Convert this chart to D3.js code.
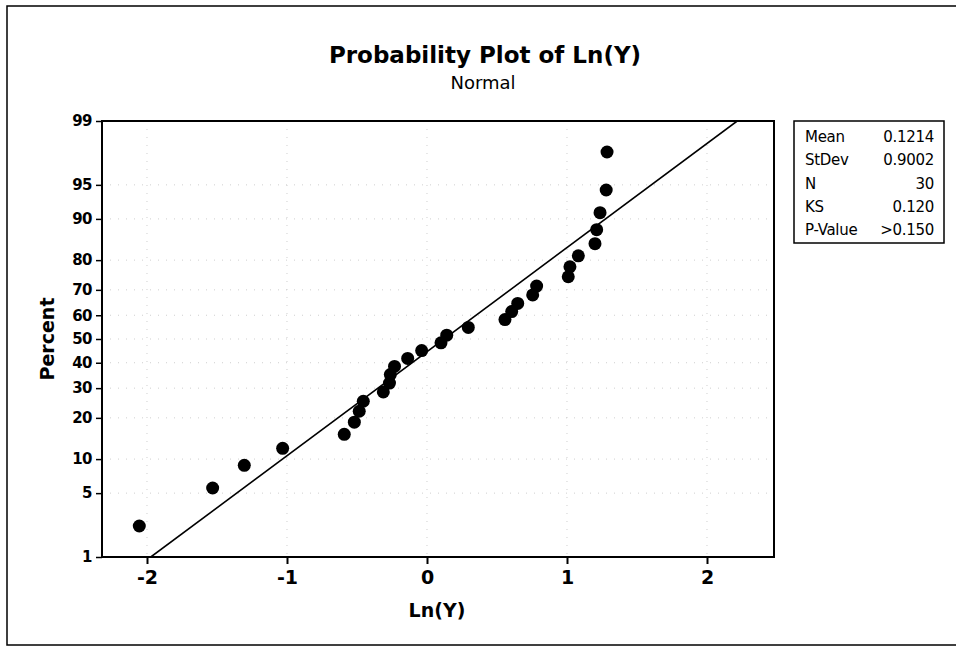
<!DOCTYPE html>
<html>
<head>
<meta charset="utf-8">
<script src="https://cdn.jsdelivr.net/npm/d3@7"></script>
<style>
  html, body { margin: 0; padding: 0; background: #fff; }
  svg { display: block; font-family: "DejaVu Sans", Verdana, sans-serif; }
</style>
</head>
<body>
<svg id="chart" width="956" height="646"></svg>
<script>
// Sorted sample values of Ln(Y)
const lnY = [
  -2.055, -1.531, -1.305, -1.031, -0.591, -0.519, -0.484, -0.455, -0.312, -0.268,
  -0.262, -0.232, -0.138, -0.038, 0.100, 0.141, 0.295, 0.557, 0.605, 0.648,
  0.755, 0.783, 1.009, 1.021, 1.081, 1.200, 1.212, 1.236, 1.280, 1.286
];
// Plotted percent for each sorted value (median ranks)
const percent = [
  2.30, 5.59, 8.88, 12.17, 15.46, 18.75, 22.04, 25.33, 28.62, 31.91,
  35.20, 38.49, 41.78, 45.07, 48.36, 51.64, 54.93, 58.22, 61.51, 64.80,
  68.09, 71.38, 74.67, 77.96, 81.25, 84.54, 87.83, 91.12, 94.41, 97.70
];
// Axis ticks
const percentTicks = [1, 5, 10, 20, 30, 40, 50, 60, 70, 80, 90, 95, 99];
const xTicks = [-2, -1, 0, 1, 2];
// Summary table
const statLabels = ["Mean", "StDev", "N", "KS", "P-Value"];
const statValues = ["0.1214", "0.9002", "30", "0.120", ">0.150"];
const fitMean = 0.1214;
const fitStDev = 0.9002;

// Inverse standard normal CDF (Acklam's rational approximation)
function probit(p) {
  const a = [-3.969683028665376e+01, 2.209460984245205e+02, -2.759285104469687e+02,
             1.383577518672690e+02, -3.066479806614716e+01, 2.506628277459239e+00];
  const b = [-5.447609879822406e+01, 1.615858368580409e+02, -1.556989798598866e+02,
             6.680131188771972e+01, -1.328068155288572e+01];
  const c = [-7.784894002430293e-03, -3.223964580411365e-01, -2.400758277161838e+00,
             -2.549671032620853e+00, 4.374664141464968e+00, 2.938163982698783e+00];
  const d = [7.784695709041462e-03, 3.224671290700398e-01, 2.445134137142996e+00,
             3.754408661907416e+00];
  const pl = 0.02425, ph = 1 - pl;
  let q, r;
  if (p < pl) {
    q = Math.sqrt(-2 * Math.log(p));
    return (((((c[0]*q+c[1])*q+c[2])*q+c[3])*q+c[4])*q+c[5]) /
           ((((d[0]*q+d[1])*q+d[2])*q+d[3])*q+1);
  }
  if (p <= ph) {
    q = p - 0.5; r = q * q;
    return (((((a[0]*r+a[1])*r+a[2])*r+a[3])*r+a[4])*r+a[5])*q /
           (((((b[0]*r+b[1])*r+b[2])*r+b[3])*r+b[4])*r+1);
  }
  q = Math.sqrt(-2 * Math.log(1 - p));
  return -(((((c[0]*q+c[1])*q+c[2])*q+c[3])*q+c[4])*q+c[5]) /
          ((((d[0]*q+d[1])*q+d[2])*q+d[3])*q+1);
}

const svg = d3.select("#chart");

// Outer frame
svg.append("rect")
  .attr("x", 7).attr("y", 6).attr("width", 960).attr("height", 639)
  .attr("fill", "none").attr("stroke", "#000").attr("stroke-width", 1.5);

const plot = { left: 102, top: 121, right: 774, bottom: 557 };

const x = d3.scaleLinear()
  .domain([-2.3214, 2.4786])
  .range([plot.left, plot.right]);

const zMax = probit(0.99);
const z = d3.scaleLinear()
  .domain([-zMax, zMax])
  .range([plot.bottom, plot.top]);
const y = p => z(probit(p / 100));

// Faint grid
const grid = svg.append("g").attr("stroke", "#cfcfcf").attr("stroke-width", 1)
  .attr("stroke-dasharray", "1 7");
grid.selectAll("line.gx").data(xTicks).join("line")
  .attr("x1", d => x(d)).attr("x2", d => x(d))
  .attr("y1", plot.top).attr("y2", plot.bottom);
grid.selectAll("line.gy").data(percentTicks.slice(1, -1)).join("line")
  .attr("x1", plot.left).attr("x2", plot.right)
  .attr("y1", d => y(d)).attr("y2", d => y(d));

// Axes
const xAxis = d3.axisBottom(x).tickValues(xTicks).tickSize(7).tickPadding(7)
  .tickFormat(d => String(d));
const gx = svg.append("g").attr("transform", `translate(0,${plot.bottom})`).call(xAxis);
gx.select(".domain").remove();
gx.selectAll(".tick line").attr("stroke", "#000").attr("stroke-width", 2);
gx.selectAll(".tick text")
  .attr("font-family", "DejaVu Sans").attr("font-weight", "bold")
  .attr("font-size", 19).attr("fill", "#000");

const yAxis = d3.axisLeft(z).tickValues(percentTicks.map(p => probit(p / 100)))
  .tickSize(6).tickPadding(4)
  .tickFormat((d, i) => String(percentTicks[i]));
const gy = svg.append("g").attr("transform", `translate(${plot.left},0)`).call(yAxis);
gy.select(".domain").remove();
gy.selectAll(".tick line").attr("stroke", "#000").attr("stroke-width", 1.5);
gy.selectAll(".tick text")
  .attr("font-family", "DejaVu Sans").attr("font-weight", "bold")
  .attr("font-size", 15).attr("letter-spacing", -0.5).attr("fill", "#000");

// Plot frame
svg.append("rect")
  .attr("x", plot.left).attr("y", plot.top)
  .attr("width", plot.right - plot.left).attr("height", plot.bottom - plot.top)
  .attr("fill", "none").attr("stroke", "#000").attr("stroke-width", 2);

// Fitted normal line from mean and standard deviation
svg.append("defs").append("clipPath").attr("id", "plotClip")
  .append("rect")
  .attr("x", plot.left).attr("y", plot.top)
  .attr("width", plot.right - plot.left).attr("height", plot.bottom - plot.top);

const fitPcts = [1, 99];
const line = d3.line()
  .x(p => x(fitMean + fitStDev * probit(p / 100)))
  .y(p => y(p));
svg.append("path")
  .attr("clip-path", "url(#plotClip)")
  .attr("d", line(fitPcts))
  .attr("fill", "none").attr("stroke", "#000").attr("stroke-width", 1.6);

// Data points
svg.append("g").selectAll("circle")
  .data(lnY.map((v, i) => ({ v, p: percent[i] })))
  .join("circle")
  .attr("cx", d => x(d.v)).attr("cy", d => y(d.p))
  .attr("r", 6.5).attr("fill", "#000");

// Titles
svg.append("text")
  .attr("x", 485).attr("y", 63).attr("text-anchor", "middle")
  .attr("font-weight", "bold").attr("font-size", 23)
  .text("Probability Plot of Ln(Y)");
svg.append("text")
  .attr("x", 483).attr("y", 89).attr("text-anchor", "middle")
  .attr("font-size", 18)
  .text("Normal");

// Axis titles
svg.append("text")
  .attr("x", 437).attr("y", 617).attr("text-anchor", "middle")
  .attr("font-weight", "bold").attr("font-size", 19)
  .text("Ln(Y)");
svg.append("text")
  .attr("transform", `translate(54,339) rotate(-90)`)
  .attr("text-anchor", "middle")
  .attr("font-weight", "bold").attr("font-size", 19)
  .text("Percent");

// Summary box
const box = svg.append("g");
box.append("rect")
  .attr("x", 794).attr("y", 121).attr("width", 150).attr("height", 122)
  .attr("fill", "#fff").attr("stroke", "#000").attr("stroke-width", 1.5);
box.selectAll("text.lab").data(statLabels).join("text")
  .attr("class", "lab")
  .attr("x", 805).attr("y", (d, i) => 142 + i * 23.3)
  .attr("font-size", 15).attr("letter-spacing", -0.3).text(d => d);
box.selectAll("text.val").data(statValues).join("text")
  .attr("class", "val")
  .attr("x", 934).attr("y", (d, i) => 142 + i * 23.3)
  .attr("text-anchor", "end")
  .attr("font-size", 15).attr("letter-spacing", -0.3).text(d => d);
</script>
</body>
</html>
